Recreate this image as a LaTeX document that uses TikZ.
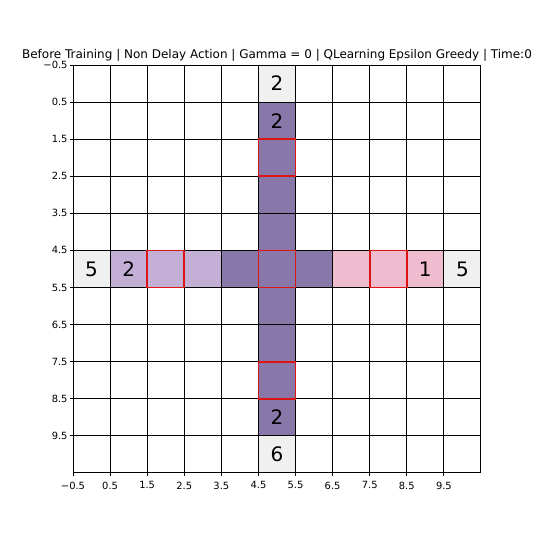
\documentclass[tikz,border=0pt]{standalone}
\usepackage{fontspec}
\setmainfont{DejaVu Sans}
\definecolor{darkpurple}{RGB}{136,119,169}
\definecolor{lightpurple}{RGB}{195,174,214}
\definecolor{pinkcell}{RGB}{239,187,207}
\definecolor{graycell}{RGB}{240,240,240}
\definecolor{redline}{RGB}{220,20,20}
\tikzset{
  gridline/.style={line width=0.75pt},
  redcell/.style={draw=redline,line width=1.4pt},
  cellnum/.style={font=\fontsize{15.3}{16}\selectfont},
  ticklabel/.style={font=\fontsize{7.6}{8}\selectfont,inner sep=0pt}
}
\newcommand{\cellfill}[3]{\fill[#1] (#2-0.5,#3-0.5) rectangle ++(1,1);}
\begin{document}
\begin{tikzpicture}[y=-1cm]
\useasboundingbox (-2.468,-2.2525) rectangle (12.091,12.307);

% cells
\cellfill{graycell}{0}{5}
\cellfill{graycell}{10}{5}
\cellfill{graycell}{5}{0}
\cellfill{graycell}{5}{10}
\foreach \r in {1,...,9} {\cellfill{darkpurple}{5}{\r}}
\foreach \c in {4,6} {\cellfill{darkpurple}{\c}{5}}
\foreach \c in {1,2,3} {\cellfill{lightpurple}{\c}{5}}
\foreach \c in {7,8,9} {\cellfill{pinkcell}{\c}{5}}

% grid
\foreach \i in {-0.5,0.5,...,10.5} {
  \draw[gridline] (\i,-0.5) -- (\i,10.5);
  \draw[gridline] (-0.5,\i) -- (10.5,\i);
}

% red squares
\foreach \c/\r in {5/2,2/5,5/5,8/5,5/8} {
  \draw[redcell] (\c-0.5,\r-0.5) rectangle (\c+0.5,\r+0.5);
}

% numbers
\node[cellnum] (top) at (5,0) {2};
\node[cellnum] (topin) at (5,1) {2};
\node[cellnum] (left) at (0,5) {5};
\node[cellnum] (leftin) at (1,5) {2};
\node[cellnum] (rightin) at (9,5) {1};
\node[cellnum] (right) at (10,5) {5};
\node[cellnum] (botin) at (5,9) {2};
\node[cellnum] (bot) at (5,10) {6};

% ticks
\foreach \t [count=\k] in {-0.5,0.5,...,9.5} {
  \draw[gridline] (-0.5,\t) -- (-0.594,\t);
  \draw[gridline] (\t,10.5) -- (\t,10.594);
  \node[ticklabel,anchor=east] (ytick\k) at (-0.64,\t) {\ifnum\k=1 −0.5\else\t\fi};
  \node[ticklabel,anchor=north] (xtick\k) at (\t,10.73) {\ifnum\k=1 −0.5\else\t\fi};
}

% title
\node[font=\fontsize{9.2}{10}\selectfont] (title) at (5,-0.77)
  {Before Training | Non Delay Action | Gamma = 0 | QLearning Epsilon Greedy | Time:0};
\end{tikzpicture}
\end{document}
